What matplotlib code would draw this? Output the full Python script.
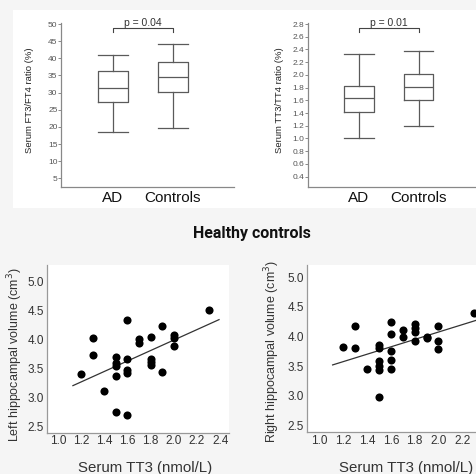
import numpy as np
import matplotlib; matplotlib.use("Agg"); import matplotlib.pyplot as plt
from matplotlib.patches import Rectangle

plt.rcParams['font.family'] = ['Liberation Sans', 'DejaVu Sans']

# --- box plot summaries (whislo, q1, med, q3, whishi) ---
groups = ["AD", "Controls"]
ft3_ft4 = {"AD": [18.6, 27.2, 31.4, 36.4, 41.0], "Controls": [19.7, 30.1, 34.6, 38.8, 44.3]}
tt3_tt4 = {"AD": [1.00, 1.42, 1.64, 1.82, 2.33], "Controls": [1.19, 1.61, 1.81, 2.02, 2.38]}
p_ft = "p = 0.04"
p_tt = "p = 0.01"

# --- scatter data (healthy controls) ---
left_tt3 = [1.2, 1.3, 1.3, 1.4, 1.5, 1.5, 1.5, 1.5, 1.5, 1.6, 1.6, 1.6, 1.6, 1.6,
            1.7, 1.7, 1.8, 1.8, 1.8, 1.8, 1.9, 1.9, 2.0, 2.0, 2.0, 2.3]
left_vol = [3.40, 4.03, 3.73, 3.11, 3.70, 3.59, 3.55, 3.37, 2.74, 4.34, 3.67, 3.47, 3.43, 2.70,
            4.01, 3.94, 4.05, 3.67, 3.61, 3.56, 4.23, 3.44, 4.08, 4.03, 3.89, 4.51]
right_tt3 = [1.2, 1.3, 1.3, 1.4, 1.5, 1.5, 1.5, 1.5, 1.5, 1.5, 1.6, 1.6, 1.6, 1.6, 1.6,
             1.7, 1.7, 1.8, 1.8, 1.8, 1.8, 1.9, 1.9, 2.0, 2.0, 2.0, 2.3]
right_vol = [3.83, 4.18, 3.81, 3.45, 3.86, 3.81, 3.59, 3.50, 3.43, 2.98, 4.25, 4.04, 3.76, 3.60, 3.45,
             4.11, 4.00, 4.21, 4.14, 4.07, 3.93, 4.00, 3.97, 4.17, 3.93, 3.79, 4.39]
# fitted lines: (slope, intercept, x range)
left_fit = (0.906, 2.18, [1.13, 2.39])
right_fit = (0.625, 2.826, [1.11, 2.45])
left_xticks = [1.0, 1.2, 1.4, 1.6, 1.8, 2.0, 2.2, 2.4]
right_xticks = [1.0, 1.2, 1.4, 1.6, 1.8, 2.0, 2.2]

W, H = 476, 474
fig = plt.figure(figsize=(W/100, H/100), dpi=100, facecolor="#f5f5f5")
def fr(x0, y0, x1, y1):  # pixel box -> figure fraction rect
    return [x0/W, 1-y1/H, (x1-x0)/W, (y1-y0)/H]

fig.patches.append(Rectangle((13/W, 1-208/H), (476-13)/W, 198/H, transform=fig.transFigure,
                             facecolor="white", edgecolor="none", zorder=-5))

def boxpanel(rect, data, ylim, xlim, yticks, fmt, ylabel, ptxt, bry, brd, lab_x):
    ax = fig.add_axes(rect)
    ax.set_facecolor("white")
    stats = [dict(whislo=data[g][0], q1=data[g][1], med=data[g][2], q3=data[g][3],
                  whishi=data[g][4], fliers=[], label=g) for g in groups]
    lc = "#5a5a5a"
    ax.bxp(stats, positions=[1, 2], widths=0.5, capwidths=0.5, showfliers=False,
           boxprops=dict(color=lc, lw=0.9), whiskerprops=dict(color=lc, lw=0.9),
           capprops=dict(color=lc, lw=0.9), medianprops=dict(color=lc, lw=0.9))
    ax.plot([1, 1, 2, 2], [bry-brd, bry, bry, bry-brd], color="#444", lw=0.8)
    ax.text(1.5, bry, ptxt, ha="center", va="bottom", fontsize=7.5, color="#333")
    ax.set_ylim(*ylim); ax.set_xlim(*xlim)
    ax.set_yticks(yticks)
    ax.set_yticklabels([fmt.format(v) for v in yticks], fontsize=6, color="#555")
    ax.tick_params(axis="y", length=2, width=0.6, color="#777", pad=0.5)
    ax.set_xticks([1, 2]); ax.set_xticklabels(groups, fontsize=11, color="#111")
    ax.tick_params(axis="x", length=0, pad=3)
    for s in ["top", "right"]: ax.spines[s].set_visible(False)
    for s in ["left", "bottom"]:
        ax.spines[s].set_color("#888"); ax.spines[s].set_linewidth(0.9)
    fig.text(lab_x/W, 1-100/H, ylabel, rotation=90, ha="center", va="center",
             fontsize=6.8, color="#222")
    return ax

boxpanel(fr(61, 23, 234, 187), ft3_ft4, (2.5, 50.3), (0.133, 3.017),
         list(range(5, 51, 5)), "{:d}", "Serum FT3/FT4 ratio (%)", p_ft, 48.7, 1.1, 29)
boxpanel(fr(307.7, 23, 480, 187), tt3_tt4, (0.237, 2.816), (0.144, 3.03),
         [round(0.4 + 0.2*i, 1) for i in range(13)], "{:.1f}", "Serum TT3/TT4 ratio (%)",
         p_tt, 2.737, 0.063, 280)

fig.text(251.7/W, 1-234/H, "Healthy controls", ha="center", va="center",
         fontsize=11.5, fontweight="bold", family=["Roboto", "DejaVu Sans"], color="#111")

def scatpanel(rect, x, y, fit, xlim, ylim, xticks, ylabel, ylab_xy, xlab_xy):
    ax = fig.add_axes(rect)
    ax.set_facecolor("white")
    ax.scatter(x, y, s=34, color="black", zorder=3, linewidths=0)
    xs = np.array(fit[2])
    ax.plot(xs, fit[0]*xs + fit[1], color="#333", lw=0.9, zorder=2)
    ax.set_xlim(*xlim); ax.set_ylim(*ylim)
    ax.set_yticks([2.5, 3.0, 3.5, 4.0, 4.5, 5.0])
    ax.set_yticklabels(["2.5", "3.0", "3.5", "4.0", "4.5", "5.0"], fontsize=8.5, color="#333")
    ax.set_xticks(xticks)
    ax.set_xticklabels([f"{v:.1f}" for v in xticks], fontsize=8.5, color="#333")
    ax.tick_params(length=0, pad=2)
    for s in ["top", "right"]: ax.spines[s].set_visible(False)
    for s in ["left", "bottom"]:
        ax.spines[s].set_color("#999"); ax.spines[s].set_linewidth(0.9)
    fig.text(ylab_xy[0]/W, 1-ylab_xy[1]/H, ylabel, rotation=90, ha="center", va="center",
             fontsize=9, color="#333")
    fig.text(xlab_xy[0]/W, 1-xlab_xy[1]/H, "Serum TT3 (nmol/L)", ha="center", va="center",
             fontsize=10.8, color="#333")
    return ax

scatpanel(fr(46.7, 265, 229, 432.7), left_tt3, left_vol, left_fit, (0.904, 2.476), (2.39, 5.29),
          left_xticks, "Left hippocampal volume (cm$^3$)", (15, 355), (145, 468))
scatpanel(fr(306.7, 265, 490, 432.3), right_tt3, right_vol, right_fit, (0.892, 2.433), (2.38, 5.21),
          right_xticks, "Right hippocampal volume (cm$^3$)", (272, 351), (406, 468))

fig.savefig("out.png", dpi=100, facecolor=fig.get_facecolor())
